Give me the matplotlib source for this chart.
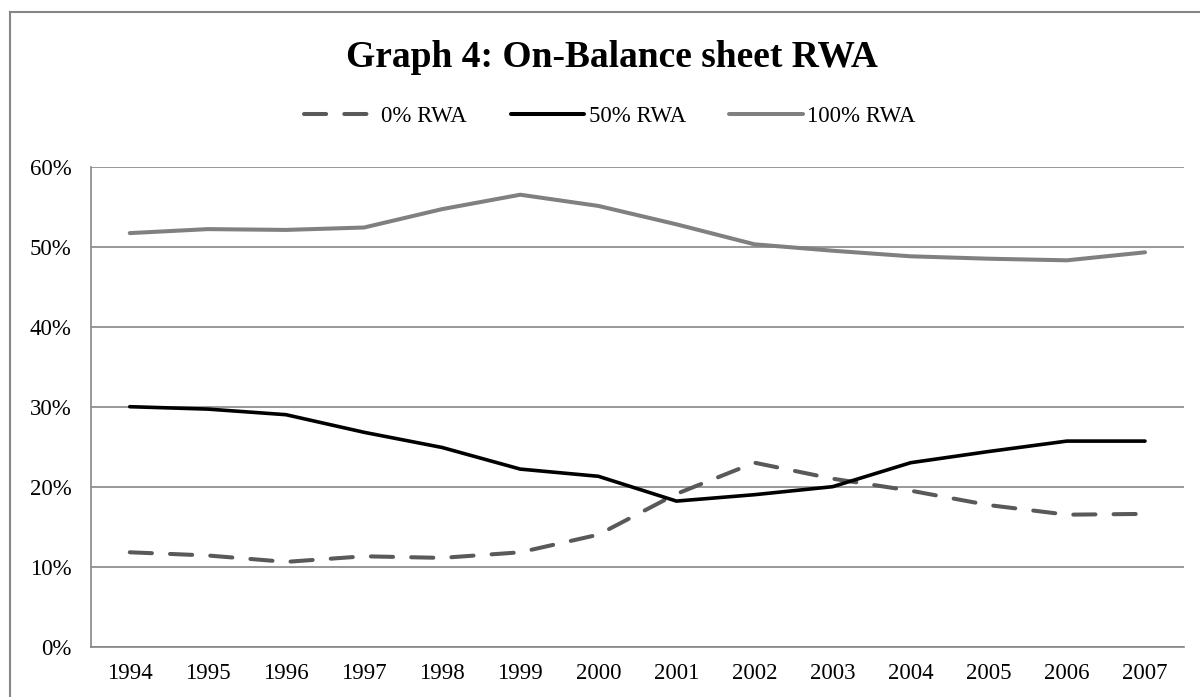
import matplotlib
matplotlib.use('Agg')
import matplotlib.pyplot as plt
from matplotlib.lines import Line2D
from matplotlib.ticker import PercentFormatter

years = ['1994', '1995', '1996', '1997', '1998', '1999', '2000',
         '2001', '2002', '2003', '2004', '2005', '2006', '2007']
rwa_0 = [11.8, 11.4, 10.6, 11.3, 11.1, 11.8, 14.0,
         19.1, 23.0, 21.0, 19.5, 17.7, 16.5, 16.6]
rwa_50 = [30.0, 29.7, 29.0, 26.8, 24.9, 22.2, 21.3,
          18.2, 19.0, 20.0, 23.0, 24.4, 25.7, 25.7]
rwa_100 = [51.7, 52.2, 52.1, 52.4, 54.7, 56.5, 55.1,
           52.8, 50.3, 49.5, 48.8, 48.5, 48.3, 49.3]

plt.rcParams['font.family'] = ['Liberation Serif', 'DejaVu Serif']

grid_col = '#868686'

fig = plt.figure(figsize=(12, 6.97), dpi=100)
ax = fig.add_axes([0.0756, 0.0722, 0.9111, 0.6886])

x = range(len(years))
ax.plot(x, rwa_0, color='#595959', lw=2.9, dashes=(5.5, 4.5),
        dash_capstyle='round', solid_capstyle='round', label='0% RWA')
ax.plot(x, rwa_50, color='black', lw=2.6, solid_capstyle='round',
        label='50% RWA')
ax.plot(x, rwa_100, color='#808080', lw=2.9, solid_capstyle='round',
        label='100% RWA')

ax.set_xlim(-0.5, len(years) - 0.5)
ax.set_ylim(0, 60)
ax.set_yticks(range(0, 61, 10))
ax.yaxis.set_major_formatter(PercentFormatter(decimals=0))
ax.set_xticks(list(x))
ax.set_xticklabels(years)
ax.tick_params(axis='both', length=0, labelsize=16.5)
ax.tick_params(axis='x', pad=12)
ax.tick_params(axis='y', pad=14)

ax.grid(axis='y', color=grid_col, lw=1.2)
ax.set_axisbelow(True)
for side in ['top', 'right']:
    ax.spines[side].set_visible(False)
for side in ['left', 'bottom']:
    ax.spines[side].set_color(grid_col)
    ax.spines[side].set_linewidth(1.2)

fig.text(0.51, 1 - 66.7 / 697, 'Graph 4: On-Balance sheet RWA',
         ha='center', va='baseline', fontsize=27, fontweight='bold')

handles = [
    Line2D([], [], color='#595959', lw=2.9, dashes=(5.5, 4.5),
           dash_capstyle='round'),
    Line2D([], [], color='black', lw=2.9, solid_capstyle='round'),
    Line2D([], [], color='#808080', lw=2.9, solid_capstyle='round'),
]
fig.legend(handles, ['0% RWA', '50% RWA', '100% RWA'], loc='center',
           bbox_to_anchor=(0.508, 1 - 116.7 / 697), ncol=3, frameon=False,
           fontsize=16.5, handlelength=3.2, handletextpad=0.2,
           columnspacing=1.9)

# outer chart frame (top and left edges visible)
fig.add_artist(Line2D([10 / 1200, 1.0], [1 - 12.3 / 697] * 2,
                      color=grid_col, lw=1.5, transform=fig.transFigure))
fig.add_artist(Line2D([10 / 1200] * 2, [0.0, 1 - 12.3 / 697],
                      color=grid_col, lw=1.5, transform=fig.transFigure))

fig.savefig('out.png', dpi=100)
